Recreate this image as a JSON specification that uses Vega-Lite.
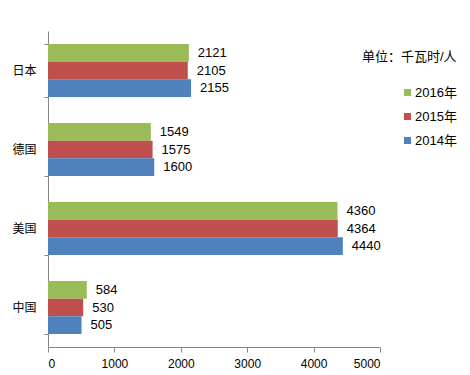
{
  "$schema": "https://vega.github.io/schema/vega-lite/v6.json",
  "width": 332,
  "height": 316,
  "autosize": "none",
  "padding": {"left": 48, "top": 31, "right": 90, "bottom": 28},
  "background": "white",
  "config": {"view": {"stroke": null}, "font": "Liberation Sans, Noto Sans CJK SC"},
  "data": {
    "values": [
      {"country": "日本", "year": "2016年", "value": 2121},
      {"country": "日本", "year": "2015年", "value": 2105},
      {"country": "日本", "year": "2014年", "value": 2155},
      {"country": "德国", "year": "2016年", "value": 1549},
      {"country": "德国", "year": "2015年", "value": 1575},
      {"country": "德国", "year": "2014年", "value": 1600},
      {"country": "美国", "year": "2016年", "value": 4360},
      {"country": "美国", "year": "2015年", "value": 4364},
      {"country": "美国", "year": "2014年", "value": 4440},
      {"country": "中国", "year": "2016年", "value": 584},
      {"country": "中国", "year": "2015年", "value": 530},
      {"country": "中国", "year": "2014年", "value": 505}
    ]
  },
  "encoding": {
    "y": {
      "field": "country", "type": "nominal",
      "sort": ["日本", "德国", "美国", "中国"],
      "scale": {"paddingInner": 0.33, "paddingOuter": 0.165},
      "axis": {"title": null, "tickBand": "extent", "labelFontSize": 12, "labelColor": "#000", "labelPadding": 8, "tickSize": 4, "domainColor": "#868686", "tickColor": "#868686", "grid": false}
    },
    "yOffset": {
      "field": "year", "type": "nominal",
      "sort": ["2016年", "2015年", "2014年"],
      "scale": {"paddingInner": 0, "paddingOuter": 0}
    },
    "x": {
      "field": "value", "type": "quantitative",
      "scale": {"domain": [0, 5000], "nice": false},
      "axis": {"title": null, "values": [0, 1000, 2000, 3000, 4000, 5000], "format": "d", "grid": false, "labelFontSize": 12, "labelColor": "#000", "tickSize": 5, "labelPadding": 6, "domainColor": "#868686", "tickColor": "#868686"}
    }
  },
  "layer": [
    {
      "mark": {"type": "bar"},
      "encoding": {
        "color": {
          "field": "year", "type": "nominal",
          "scale": {"domain": ["2016年", "2015年", "2014年"], "range": ["#9BBB59", "#C0504D", "#4F81BD"]},
          "legend": {
            "orient": "none", "legendX": 314, "legendY": 20,
            "title": "单位：千瓦时/人", "titleAnchor": "start", "titleFontSize": 13, "titleFontWeight": "normal", "titleColor": "#000", "titlePadding": 22,
            "symbolType": "square", "symbolSize": 50, "symbolOffset": 39, "symbolStrokeWidth": 0,
            "labelOffset": 1, "labelFontSize": 13, "labelColor": "#000", "rowPadding": 10
          }
        }
      }
    },
    {
      "mark": {"type": "text", "align": "left", "dx": 9, "fontSize": 13, "color": "#000"},
      "encoding": {"text": {"field": "value", "type": "quantitative"}}
    }
  ]
}
